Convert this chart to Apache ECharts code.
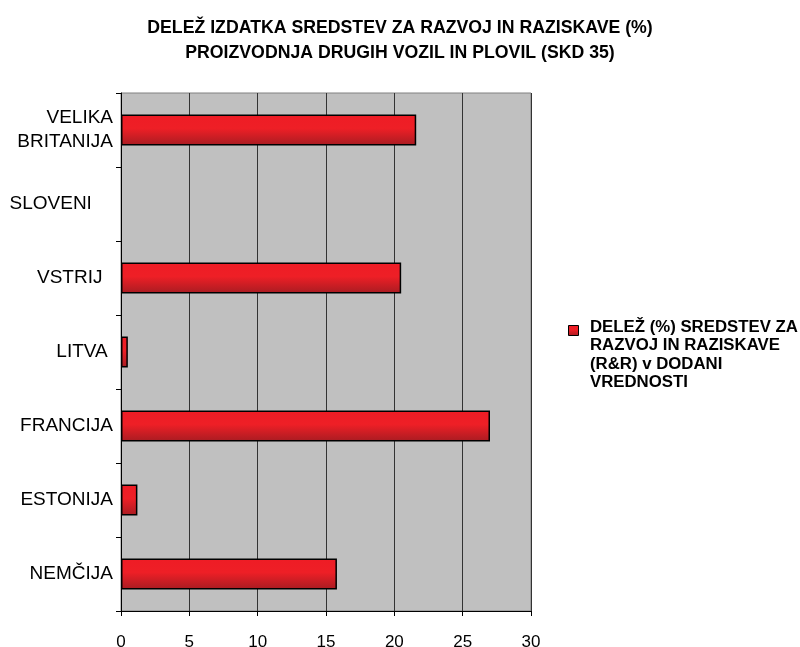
<!DOCTYPE html>
<html>
<head>
<meta charset="utf-8">
<script src="https://cdn.jsdelivr.net/npm/echarts@6/dist/echarts.min.js"></script>
<style>
	html, body { margin: 0; padding: 0; background: #fff; }
	#chart { width: 800px; height: 647px; }
</style>
</head>
<body>
<div id="chart"></div>
<script>
// 数据
var countries = ['NEMČIJA', 'ESTONIJA', 'FRANCIJA', 'LITVA', 'VSTRIJ', 'SLOVENI', 'VELIKA\nBRITANIJA'];
var shares = [15.8, 1.2, 27.0, 0.5, 20.5, null, 21.6];
var seriesName = 'DELEŽ (%) SREDSTEV ZA\nRAZVOJ IN RAZISKAVE\n(R&R) v DODANI\nVREDNOSTI';
var titleText = 'DELEŽ IZDATKA SREDSTEV ZA RAZVOJ IN RAZISKAVE (%)\nPROIZVODNJA DRUGIH VOZIL IN PLOVIL (SKD 35)';

var fontName = 'Liberation Sans, Arial, sans-serif';

// 标签右侧的空白（原图中标签并不完全右对齐）
var labelTail = { 'SLOVENI': '    ', 'VSTRIJ': '  ', 'LITVA': ' ' };

var barColor = new echarts.graphic.LinearGradient(0, 0, 0, 1, [
	{ offset: 0, color: '#ee1c25' },
	{ offset: 0.45, color: '#ee1f26' },
	{ offset: 1, color: '#a81c22' }
]);

var myChart = echarts.init(document.getElementById('chart'));

var option = {
	animation: false,
	backgroundColor: '#ffffff',
	textStyle: { fontFamily: fontName },
	title: {
		text: titleText,
		left: 'center',
		top: 11,
		textStyle: {
			fontSize: 17.7,
			fontWeight: 'bold',
			color: '#000',
			lineHeight: 24.5,
			fontFamily: fontName
		}
	},
	legend: { show: false, data: [seriesName] },
	grid: {
		left: 121,
		right: 269,
		top: 93,
		bottom: 36,
		outerBoundsMode: 'none',
		containLabel: false,
		show: true,
		backgroundColor: '#c0c0c0',
		borderColor: '#808080',
		borderWidth: 1
	},
	xAxis: {
		type: 'value',
		min: 0,
		max: 30,
		interval: 5,
		axisLine: { show: true, lineStyle: { color: '#000', width: 1 } },
		axisTick: { show: true, length: 5, lineStyle: { color: '#000' } },
		axisLabel: { fontSize: 17, color: '#000', margin: 23 },
		splitLine: { show: true, lineStyle: { color: '#333', width: 1 } }
	},
	yAxis: {
		type: 'category',
		data: countries,
		axisLine: { show: true, lineStyle: { color: '#000', width: 1 } },
		axisTick: { show: true, length: 5, lineStyle: { color: '#000' } },
		axisLabel: {
			fontSize: 19,
			color: '#000',
			margin: 8,
			lineHeight: 23.5,
			align: 'right',
			formatter: function(value) {
				return value + (labelTail[value] || '');
			}
		},
		splitLine: { show: false }
	},
	// 图例（图标与第一行对齐）
	graphic: [{
		type: 'rect',
		left: 568,
		top: 325,
		shape: { width: 10, height: 10 },
		style: { fill: barColor, stroke: '#000', lineWidth: 1 }
	}, {
		type: 'text',
		left: 590,
		top: 318,
		style: {
			text: seriesName,
			font: 'bold 16.8px ' + fontName,
			fill: '#000',
			lineHeight: 18.5
		}
	}],
	series: [{
		name: seriesName,
		type: 'bar',
		data: shares,
		barWidth: 31,
		itemStyle: {
			color: barColor,
			borderColor: '#000',
			borderWidth: 1.5
		}
	}]
};

myChart.setOption(option);
</script>
</body>
</html>
